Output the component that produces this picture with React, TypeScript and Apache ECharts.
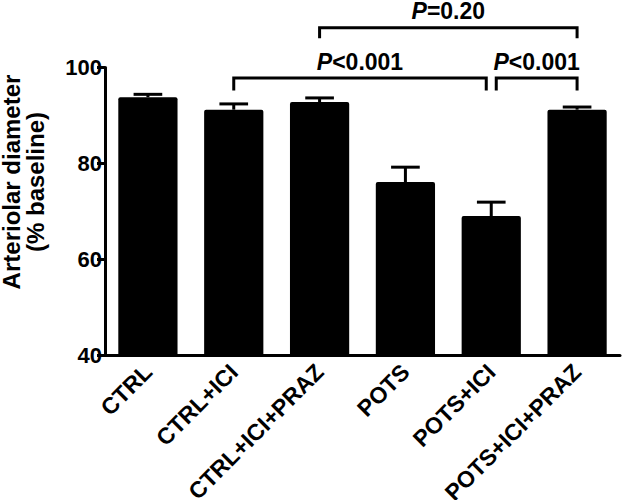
import React, { useEffect, useRef } from "react";
import * as echarts from "echarts";

const categories = ["CTRL", "CTRL+ICI", "CTRL+ICI+PRAZ", "POTS", "POTS+ICI", "POTS+ICI+PRAZ"];
const means = [93.8, 91.2, 92.8, 76.1, 69.0, 91.2];
const sems = [0.6, 1.2, 0.85, 3.1, 2.9, 0.55];
const yMin = 40;
const yMax = 100;
const yInterval = 20;
const yNameLines = ["Arteriolar diameter", "(% baseline)"];

// significance brackets: from category index, to category index, bracket level, drop, label
const bracketFrom = [1, 4, 2];
const bracketTo = [4, 5, 5];
const bracketLevel = [97.8, 97.8, 108.3];
const bracketDrop = [2.6, 2.6, 2.2];
const bracketLabel = ["<0.001", "<0.001", "=0.20"];

const FONT = "'Liberation Sans', Arial, Helvetica, sans-serif";

export default function App() {
  const ref = useRef<HTMLDivElement>(null);
  useEffect(() => {
    if (!ref.current) return;
    const chart = echarts.init(ref.current, null, { renderer: "svg" });
    const errData = means.map((m, i) => [i, m, sems[i]]);
    const brData = bracketFrom.map((f, i) => [f, bracketTo[i], bracketLevel[i], bracketDrop[i], i]);
    const nameX = [11.5, 35];
    chart.setOption({
      animation: false,
      backgroundColor: "#fff",
      textStyle: { fontFamily: FONT },
      grid: { left: 105, right: 2, top: 67.5, bottom: 145, containLabel: false, outerBoundsMode: "none" },
      xAxis: {
        type: "category",
        data: categories,
        axisLine: { lineStyle: { color: "#000", width: 3 } },
        axisTick: { show: false },
        axisLabel: {
          rotate: 45,
          margin: 13,
          color: "#000",
          fontWeight: "bold",
          fontSize: 23,
          fontFamily: FONT,
          interval: 0,
        },
      },
      yAxis: {
        type: "value",
        min: yMin,
        max: yMax,
        interval: yInterval,
        splitLine: { show: false },
        axisLine: { show: true, lineStyle: { color: "#000", width: 3 } },
        axisTick: { show: true, length: 8, lineStyle: { color: "#000", width: 3 } },
        axisLabel: {
          color: "#000",
          fontWeight: "bold",
          fontSize: 22,
          fontFamily: FONT,
          margin: 3,
        },
      },
      graphic: yNameLines.map((t, i) => ({
        type: "text",
        x: nameX[i],
        y: 182,
        rotation: Math.PI / 2,
        style: {
          text: t,
          fontSize: 24,
          fontWeight: "bold",
          fontFamily: FONT,
          fill: "#000",
          align: "center",
          verticalAlign: "middle",
          lineHeight: 20,
        },
      })),
      series: [
        {
          type: "bar",
          data: means,
          barWidth: "69%",
          itemStyle: { color: "#000", borderRadius: [2, 2, 0, 0] },
          z: 2,
        },
        {
          type: "custom",
          data: errData,
          z: 3,
          renderItem: (params: any, api: any) => {
            const c = api.value(0);
            const m = api.value(1);
            const e = api.value(2);
            const p0 = api.coord([c, m]);
            const p1 = api.coord([c, m + e]);
            const hw = api.size([1, 0])[0] * 0.167;
            return {
              type: "group",
              children: [
                { type: "line", shape: { x1: p0[0], y1: p0[1], x2: p1[0], y2: p1[1] }, style: { stroke: "#000", lineWidth: 3 } },
                { type: "line", shape: { x1: p1[0] - hw, y1: p1[1], x2: p1[0] + hw, y2: p1[1] }, style: { stroke: "#000", lineWidth: 3 } },
              ],
            };
          },
        },
        {
          type: "custom",
          data: brData,
          z: 4,
          clip: false,
          renderItem: (params: any, api: any) => {
            const f = api.value(0);
            const t = api.value(1);
            const lvl = api.value(2);
            const drop = api.value(3);
            const idx = params.dataIndex;
            // shorten ends shared with a neighbouring bracket at the same level
            const sharedFrom = bracketTo.some((tt, j) => j !== idx && tt === f && bracketLevel[j] === lvl);
            const sharedTo = bracketFrom.some((ff, j) => j !== idx && ff === t && bracketLevel[j] === lvl);
            const a = api.coord([f, lvl]);
            const b = api.coord([t, lvl]);
            const d = api.coord([f, lvl - drop]);
            const x1 = a[0] + (sharedFrom ? 5 : 0);
            const x2 = b[0] - (sharedTo ? 5 : 0);
            return {
              type: "group",
              children: [
                {
                  type: "polyline",
                  shape: { points: [[x1, d[1]], [x1, a[1]], [x2, a[1]], [x2, d[1]]] },
                  style: { stroke: "#000", lineWidth: 3, fill: "none" },
                },
                {
                  type: "text",
                  style: {
                    text: "{i|P}{n|" + bracketLabel[idx] + "}",
                    x: (x1 + x2) / 2,
                    y: a[1] - 16.5,
                    align: "center",
                    verticalAlign: "middle",
                    rich: {
                      i: { fontStyle: "italic", fontWeight: "bold", fontSize: 23, lineHeight: 18, fontFamily: FONT, fill: "#000" },
                      n: { fontWeight: "bold", fontSize: 23, lineHeight: 18, fontFamily: FONT, fill: "#000" },
                    },
                  },
                },
              ],
            };
          },
        },
      ],
    });
    return () => chart.dispose();
  }, []);
  return <div ref={ref} style={{ position: "fixed", left: 0, top: 0, width: 622, height: 500 }} />;
}
